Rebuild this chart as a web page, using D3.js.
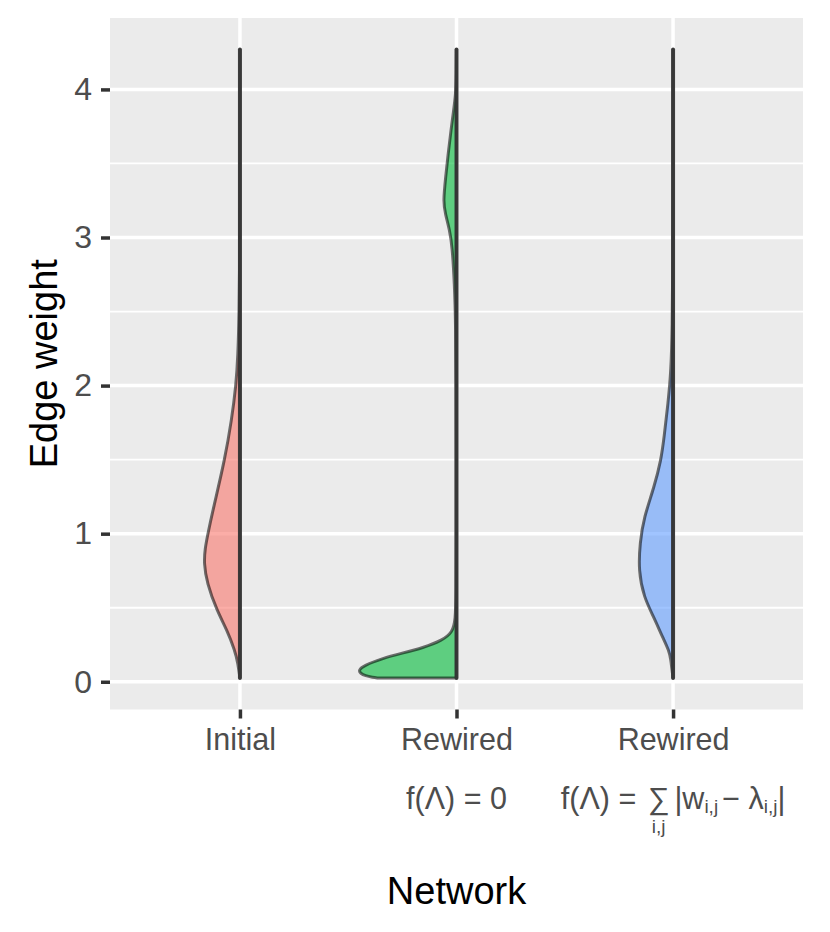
<!DOCTYPE html>
<html>
<head>
<meta charset="utf-8">
<script src="https://cdn.jsdelivr.net/npm/d3@7"></script>
<style>
  body { margin: 0; background: #fff; }
  text { font-family: "Liberation Sans", Arial, Helvetica, sans-serif; }
</style>
</head>
<body>
<svg id="chart" width="830" height="932"></svg>
<script>

// data: categories
var groups = ["initial", "rewired_zero", "rewired_abs"];
var groupLabels = ["Initial", "Rewired", "Rewired"];
var groupColors = ["#F8766D", "#00BA38", "#619CFF"];
var yTicks = [0, 1, 2, 3, 4];
var weightRange = [0.025, 4.27];   // min / max edge weight (all networks)

// half-violin density profiles
var initialWeight  = [0.025, 0.125, 0.21, 0.35, 0.48, 0.67, 0.80, 0.90, 1.0, 1.16, 1.5, 1.77, 2.0, 2.2, 2.5, 2.8, 3.3, 4.27];
var initialDensity = [0, 0.055, 0.14, 0.36, 0.64, 0.92, 1.0, 0.97, 0.89, 0.75, 0.42, 0.23, 0.11, 0.055, 0.022, 0.008, 0.003, 0];

var zeroWeight  = [0.025, 0.03, 0.04, 0.057, 0.078, 0.11, 0.16, 0.19, 0.23, 0.28, 0.335, 0.415, 0.6, 1.0, 1.5, 2.0, 2.4, 2.69, 2.94, 3.05, 3.16, 3.24, 3.41, 3.57, 3.73, 3.84, 3.97, 4.1, 4.27];
var zeroDensity = [2.17, 2.33, 2.53, 2.67, 2.72, 2.58, 2.03, 1.56, 0.92, 0.39, 0.11, 0.03, 0.011, 0.008, 0.008, 0.011, 0.022, 0.056, 0.12, 0.19, 0.31, 0.37, 0.30, 0.23, 0.15, 0.09, 0.02, 0.005, 0];

var absWeight  = [0.025, 0.1, 0.145, 0.21, 0.30, 0.44, 0.57, 0.75, 0.94, 1.11, 1.31, 1.50, 1.65, 1.88, 2.1, 2.4, 2.8, 3.3, 4.27];
var absDensity = [0, 0.04, 0.06, 0.11, 0.29, 0.54, 0.81, 0.96, 0.92, 0.81, 0.53, 0.33, 0.25, 0.14, 0.055, 0.022, 0.008, 0.003, 0];

var profiles = [
  d3.zip(initialWeight, initialDensity),
  d3.zip(zeroWeight, zeroDensity),
  d3.zip(absWeight, absDensity)
];

///////////////////////
// Chart Size Setup
var panel = { left: 110, right: 803, top: 18, bottom: 709.5 };
var mainSize = 30.5, subSize = 19, titleSize = 38;

var svg = d3.select("#chart");

///////////////////////
// Scales
var span = weightRange[1] - weightRange[0];
var y = d3.scaleLinear()
    .domain([weightRange[0] - 0.05 * span, weightRange[1] + 0.05 * span])
    .range([panel.bottom, panel.top]);

var x = d3.scalePoint()
    .domain(groups)
    .range([panel.left, panel.right])
    .padding(0.6);

var widthScale = d3.scaleLinear().domain([0, 1]).range([0, 36]);

///////////////////////
// Panel + grid
svg.append("rect")
    .attr("x", panel.left).attr("y", panel.top)
    .attr("width", panel.right - panel.left)
    .attr("height", panel.bottom - panel.top)
    .attr("fill", "#EBEBEB");

var minorTicks = yTicks.map(function(t) { return t + 0.5; })
    .filter(function(t) { return t < y.domain()[1]; });

svg.append("g").selectAll("line")
    .data(minorTicks)
    .enter().append("line")
      .attr("x1", panel.left).attr("x2", panel.right)
      .attr("y1", d => y(d)).attr("y2", d => y(d))
      .attr("stroke", "#fff").attr("stroke-width", 1.8);

svg.append("g").selectAll("line")
    .data(yTicks)
    .enter().append("line")
      .attr("x1", panel.left).attr("x2", panel.right)
      .attr("y1", d => y(d)).attr("y2", d => y(d))
      .attr("stroke", "#fff").attr("stroke-width", 3.5);

svg.append("g").selectAll("line")
    .data(groups)
    .enter().append("line")
      .attr("x1", d => x(d)).attr("x2", d => x(d))
      .attr("y1", panel.top).attr("y2", panel.bottom)
      .attr("stroke", "#fff").attr("stroke-width", 3.5);

///////////////////////
// Half violins
groups.forEach(function(g, i) {
  var cx = x(g);
  var area = d3.area()
      .curve(d3.curveBasis)
      .y(function(d) { return y(d[0]); })
      .x0(function(d) { return cx - widthScale(d[1]); })
      .x1(cx);

  svg.append("path")
      .datum(profiles[i])
      .attr("d", area)
      .attr("fill", groupColors[i])
      .attr("fill-opacity", 0.6)
      .attr("stroke", "#000")
      .attr("stroke-opacity", 0.55)
      .attr("stroke-width", 3)
      .attr("stroke-linejoin", "round");
});

// points column (drawn as a solid strip, as in the picture)
svg.append("g").selectAll("line")
    .data(groups)
    .enter().append("line")
      .attr("x1", d => x(d)).attr("x2", d => x(d))
      .attr("y1", y(weightRange[0])).attr("y2", y(weightRange[1]))
      .attr("stroke", "#333")
      .attr("stroke-opacity", 0.92)
      .attr("stroke-width", 4)
      .attr("stroke-linecap", "round");

///////////////////////
// Axis
var yAxis = d3.axisLeft(y).tickValues(yTicks).tickSize(9).tickPadding(9)
    .tickFormat(d3.format("d"));
var gy = svg.append("g")
    .attr("transform", "translate(" + panel.left + ",0)")
    .call(yAxis);
gy.select(".domain").remove();
gy.selectAll(".tick line").attr("stroke", "#333").attr("stroke-width", 3.5);
gy.selectAll(".tick text").attr("fill", "#4D4D4D").style("font-size", "32px")
    .style("font-family", '"Liberation Sans", Arial, sans-serif');

var xAxis = d3.axisBottom(x).tickSize(9).tickPadding(10)
    .tickFormat(function(d, i) { return groupLabels[i]; });
var gx = svg.append("g")
    .attr("transform", "translate(0," + panel.bottom + ")")
    .call(xAxis);
gx.select(".domain").remove();
gx.selectAll(".tick line").attr("stroke", "#333").attr("stroke-width", 3.5);
gx.selectAll(".tick text").attr("fill", "#4D4D4D").style("font-size", mainSize + "px")
    .style("font-family", '"Liberation Sans", Arial, sans-serif');

///////////////////////
// Second label lines (math)
var line2 = 809;

function layout(pieces, cx) {
  var g = svg.append("g");
  var cursor = 0;
  pieces.forEach(function(p) {
    var t = g.append("text")
        .text(p.t)
        .attr("x", cursor)
        .attr("y", line2 + (p.sub ? 4 : 0))
        .attr("fill", "#4D4D4D")
        .style("font-size", (p.sub ? subSize : (p.size || mainSize)) + "px")
        .attr("xml:space", "preserve")
        .style("white-space", "pre");
    var w = t.node().getComputedTextLength();
    if (p.under) {
      g.append("text")
          .text(p.under)
          .attr("x", cursor + w / 2)
          .attr("y", line2 + 24)
          .attr("text-anchor", "middle")
          .attr("fill", "#4D4D4D")
          .style("font-size", subSize + "px");
    }
    cursor += w + (p.gap || 0);
  });
  g.attr("transform", "translate(" + (cx - cursor / 2) + ",0)");
}

layout([{ t: "f(Λ) = 0" }], x(groups[1]));
layout([
  { t: "f(Λ) = ", gap: 3 },
  { t: "∑", under: "i,j", gap: 5 },
  { t: "|w" },
  { t: "i,j", sub: true, gap: 4 },
  { t: "− λ" },
  { t: "i,j", sub: true },
  { t: "|" }
], x(groups[2]));

///////////////////////
// Titles
svg.append("text")
    .text("Edge weight")
    .attr("text-anchor", "middle")
    .attr("transform", "translate(57," + ((panel.top + panel.bottom) / 2) + ") rotate(-90)")
    .style("font-size", titleSize + "px")
    .attr("fill", "#000");

svg.append("text")
    .text("Network")
    .attr("text-anchor", "middle")
    .attr("x", (panel.left + panel.right) / 2)
    .attr("y", 904)
    .style("font-size", titleSize + "px")
    .attr("fill", "#000");

</script>
</body>
</html>
